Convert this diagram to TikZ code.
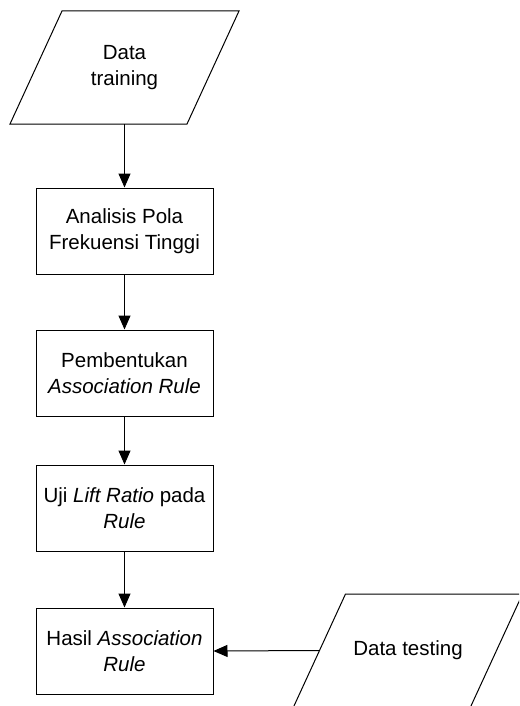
\documentclass[tikz,border=0pt]{standalone}
\usepackage{fontspec}
\setmainfont{Liberation Sans}
\usetikzlibrary{arrows.meta,calc}
\begin{document}
\begin{tikzpicture}[x=1pt,y=1pt,
  every node/.style={font=\fontsize{20.5}{26}\selectfont, align=center},
  procbox/.style={draw, line width=1pt, minimum width=177pt, minimum height=86pt, inner sep=0pt},
  iohidden/.style={minimum width=230pt, minimum height=113pt, inner sep=0pt},
  flow/.style={line width=1pt, -{Triangle[length=14pt,width=12pt]}},
  edge/.style={line width=1pt, line join=miter}]
\useasboundingbox (0,0) rectangle (519,-706);
\clip (0,0) rectangle (519,-706);
\fill[white] (0,0) rectangle (519,-706);
% input: Data training
\node[iohidden] (train) at (124.5,-67.5) {Data\\training};
\draw[edge] ($(train.center)+(-62.5,56.5)$) -- ($(train.center)+(114.5,56.5)$)
  -- ($(train.center)+(62.5,-56.5)$) -- ($(train.center)+(-114.5,-56.5)$) -- cycle;
% process boxes
\node[procbox] (b1) at (124.5,-231) {Analisis Pola\\Frekuensi Tinggi};
\node[procbox] (b2) at (124.5,-373) {Pembentukan\\\textit{Association Rule}};
\node[procbox] (b3) at (124.5,-508) {Uji \textit{Lift Ratio} pada\\\textit{Rule}};
\node[procbox] (b4) at (124.5,-651) {Hasil \textit{Association}\\\textit{Rule}};
% input: Data testing
\node[iohidden] (test) at (408,-650.5) {Data testing};
\draw[edge] ($(test.center)+(-62.5,56.5)$) -- ($(test.center)+(114.5,56.5)$)
  -- ($(test.center)+(62.5,-56.5)$) -- ($(test.center)+(-114.5,-56.5)$) -- cycle;
\coordinate (testin) at ($(test.center)+(-88.5,0)$);
% connectors
\draw[flow] (train.south) -- (b1.north);
\draw[flow] (b1.south) -- (b2.north);
\draw[flow] (b2.south) -- (b3.north);
\draw[flow] (b3.south) -- (b4.north);
\draw[flow] (testin) -- (b4.east);
\end{tikzpicture}
\end{document}
